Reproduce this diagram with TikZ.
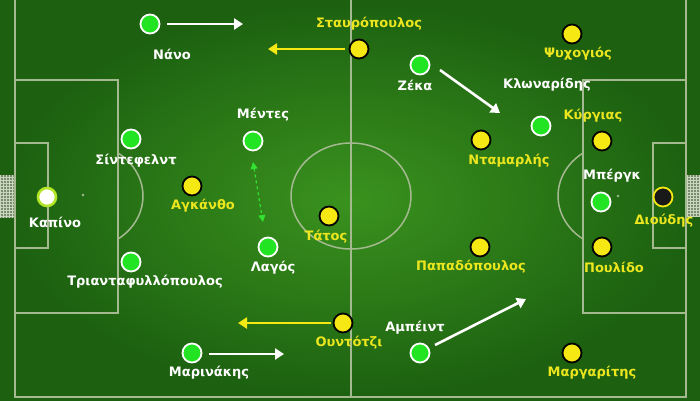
\documentclass[tikz,border=0pt]{standalone}
\usepackage{fontspec}
\setmainfont{DejaVu Sans}
\usetikzlibrary{arrows.meta,positioning,calc}

\definecolor{grassout}{RGB}{28,96,16}
\definecolor{grassin}{RGB}{58,146,30}
\definecolor{linegray}{RGB}{165,185,145}
\definecolor{netgray}{RGB}{120,140,110}
\definecolor{plgreen}{RGB}{34,228,34}
\definecolor{plyellow}{RGB}{246,232,18}
\definecolor{txtyellow}{RGB}{236,230,30}
\definecolor{kpring}{RGB}{180,230,40}
\definecolor{arrgreen}{RGB}{50,225,50}

\begin{document}
\begin{tikzpicture}[x=1pt,y=-1pt,
	pline/.style={draw=linegray,line width=1.5pt},
	greenpl/.style={circle,draw=white,line width=1.8pt,fill=plgreen,minimum size=19pt,inner sep=0pt},
	yellowpl/.style={circle,draw=black,line width=1.8pt,fill=plyellow,minimum size=19pt,inner sep=0pt},
	wname/.style={text=white,inner sep=0pt,font=\fontsize{13}{15}\selectfont\bfseries},
	yname/.style={text=txtyellow,inner sep=0pt,font=\fontsize{13}{15}\selectfont\bfseries},
	warrow/.style={-{Triangle[length=9pt,width=11pt]},white,line width=2.6pt},
	yarrow/.style={-{Triangle[length=9pt,width=11pt]},plyellow,line width=2.6pt},
	garrow/.style={{Triangle[length=7pt,width=7pt]}-{Triangle[length=7pt,width=7pt]},arrgreen,line width=1.2pt,dashed}]
	%%grass
	\useasboundingbox (0,0) rectangle (700,400);
	\shade [inner color=grassin,outer color=grassout] (0,0) rectangle (700,400);
	%%nets
	\fill [netgray] (0,175) rectangle (15,218);
	\draw [step=3pt,linegray!60,very thin] (0,175) grid (15,218);
	\fill [netgray] (686,175) rectangle (700,216);
	\draw [step=3pt,linegray!60,very thin] (686,175) grid (700,216);
	%%pitch lines
	\draw [pline] (15,0) -- (15,397) -- (686,397) -- (686,0);
	\draw [pline] (351,0) -- (351,397);
	\draw [pline] (351,196) ellipse [x radius=60,y radius=53];
	\draw [pline] (15,80) -- (118,80) -- (118,313) -- (15,313);
	\draw [pline] (15,143) -- (48,143) -- (48,248) -- (15,248);
	\draw [pline] (686,80) -- (583,80) -- (583,313) -- (686,313);
	\draw [pline] (686,143) -- (653,143) -- (653,248) -- (686,248);
	\begin{scope}
		\clip (118,0) rectangle (200,400);
		\draw [pline] (83,196) ellipse [x radius=60,y radius=53];
	\end{scope}
	\begin{scope}
		\clip (500,0) rectangle (583,400);
		\draw [pline] (618,196) ellipse [x radius=60,y radius=53];
	\end{scope}
	\fill [linegray] (83,195) circle (1.3pt) (618,196) circle (1.3pt);

	%%green team
	\node [greenpl] (nano) at (150,24) {};
	\node [greenpl] (mentes) at (253,141) {};
	\node [greenpl] (sintefelnt) at (131,139) {};
	\node [circle,draw=kpring,line width=2.6pt,fill=white,minimum size=18pt,inner sep=0pt] (kapino) at (47,197) {};
	\node [greenpl] (triant) at (131,262) {};
	\node [greenpl] (lagos) at (268,247) {};
	\node [greenpl] (marinakis) at (192,353) {};
	\node [greenpl] (zeka) at (420,65) {};
	\node [greenpl] (klonaridis) at (541,126) {};
	\node [greenpl] (bergk) at (601,202) {};
	\node [greenpl] (ampeint) at (420,353) {};

	\node [wname] (nanoL) at (172,54) {Νάνο};
	\node [wname] (mentesL) at (263,115) {Μέντες};
	\node [wname] (sintefelntL) at (136,161) {Σίντεφελντ};
	\node [wname] (kapinoL) at (55,222) {Καπίνο};
	\node [wname] (triantL) at (145,282) {Τριανταφυλλόπουλος};
	\node [wname] (lagosL) at (273,268) {Λαγός};
	\node [wname] (marinakisL) at (209,373) {Μαρινάκης};
	\node [wname] (zekaL) at (415,85) {Ζέκα};
	\node [wname] (klonaridisL) at (547,85) {Κλωναρίδης};
	\node [wname] (bergkL) at (612,176) {Μπέργκ};
	\node [wname] (ampeintL) at (415,328) {Αμπέιντ};

	%%yellow team
	\node [yellowpl] (stavr) at (359,49) {};
	\node [yellowpl] (psyx) at (572,34) {};
	\node [yellowpl] (kyrgias) at (602,141) {};
	\node [yellowpl] (ntamarlis) at (481,140) {};
	\node [yellowpl] (agkantho) at (192,186) {};
	\node [yellowpl] (tatos) at (329,216) {};
	\node [circle,draw=plyellow,line width=1.8pt,fill=black!90,minimum size=19pt,inner sep=0pt] (dioudis) at (663,197) {};
	\node [yellowpl] (papad) at (480,247) {};
	\node [yellowpl] (poulido) at (602,247) {};
	\node [yellowpl] (ountotzi) at (343,323) {};
	\node [yellowpl] (margaritis) at (572,353) {};

	\node [yname] (stavrL) at (369,24) {Σταυρόπουλος};
	\node [yname] (psyxL) at (578,54) {Ψυχογιός};
	\node [yname] (kyrgiasL) at (593,116) {Κύργιας};
	\node [yname] (ntamarlisL) at (509,161) {Νταμαρλής};
	\node [yname] (agkanthoL) at (203,206) {Αγκάνθο};
	\node [yname] (tatosL) at (326,237) {Τάτος};
	\node [yname] (dioudisL) at (664,221) {Διούδης};
	\node [yname] (papadL) at (471,267) {Παπαδόπουλος};
	\node [yname] (poulidoL) at (614,267) {Πουλίδο};
	\node [yname] (ountotziL) at (349,343) {Ουντότζι};
	\node [yname] (margaritisL) at (592,373) {Μαργαρίτης};

	%%runs
	\coordinate (nanoA) at (167,24);
	\coordinate (nanoB) at (243,24);
	\coordinate (stavrA) at (345,49);
	\coordinate (stavrB) at (268,49);
	\coordinate (zekaA) at (440,70);
	\coordinate (zekaB) at (500,113);
	\coordinate (ampeintA) at (435,345);
	\coordinate (ampeintB) at (526,299);
	\coordinate (ountotziA) at (331,323);
	\coordinate (ountotziB) at (238,323);
	\coordinate (marinakisA) at (209,354);
	\coordinate (marinakisB) at (284,354);
	\coordinate (mentesA) at (253,162);
	\coordinate (lagosA) at (263,222);
	\draw [warrow] (nanoA) -- (nanoB);
	\draw [yarrow] (stavrA) -- (stavrB);
	\draw [warrow] (zekaA) -- (zekaB);
	\draw [warrow] (ampeintA) -- (ampeintB);
	\draw [yarrow] (ountotziA) -- (ountotziB);
	\draw [warrow] (marinakisA) -- (marinakisB);
	\draw [garrow] (mentesA) -- (lagosA);
\end{tikzpicture}
\end{document}
